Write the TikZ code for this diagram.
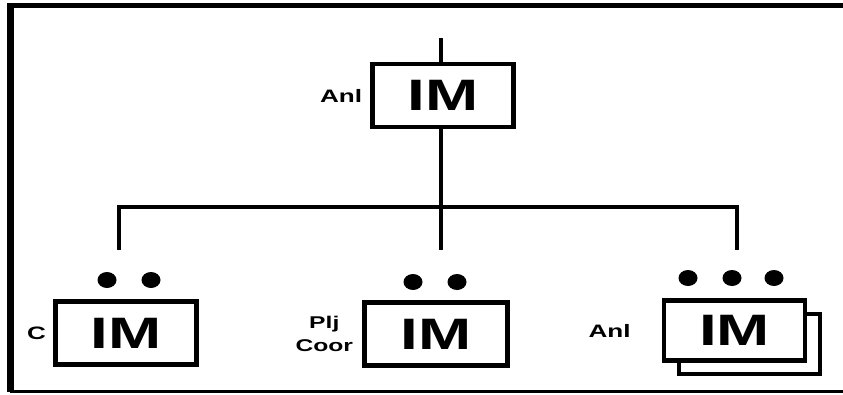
\documentclass[tikz,border=0pt]{standalone}
\usepackage{fontspec}
\newfontfamily\widesans[FakeStretch=1.45]{Liberation Sans}
\usetikzlibrary{positioning}

\begin{document}
\begin{tikzpicture}[x=1pt,y=-1pt,
  imbox/.style={draw,line width=4.5pt,fill=white,minimum width=141pt,
    minimum height=63pt,inner sep=0pt,
    font=\widesans\bfseries\fontsize{44}{44}\selectfont},
  role/.style={inner sep=0pt,font=\widesans\bfseries\fontsize{18}{23}\selectfont},
  link/.style={line width=3.2pt},
  blob/.style={x radius=9.5pt,y radius=8pt}]

\useasboundingbox (0,0) rectangle (843,394);

% frame
\draw[line width=5pt] (7,5.5) -- (843,5.5);
\draw[line width=7pt] (10.5,3) -- (10.5,392);
\draw[line width=2.5pt] (10,391.5) -- (843,391.5);

% top box
\node[imbox] (top) at (443,95.5) {IM};
\node[role,left=8pt of top] (topR) {Anl};

% feed into top box
\coordinate (feed) at (441,38);
\draw[link] (feed) -- (feed |- top.north);

% lower boxes
\node[imbox] (left) at (126,333) {IM};
\node[role,left=7pt of left] (leftR) {C};

\node[imbox,minimum width=143pt] (mid) at (436,334) {IM};
\node[role,left=9pt of mid,align=center,font=\widesans\bfseries\fontsize{17}{23}\selectfont] (midR) {Plj\\Coor};

\node[imbox,minimum height=60pt] (backR) at (749.5,344) {};
\node[imbox,minimum height=60pt] (right) at (734.5,330.5) {IM};
\node[role,left=31pt of right] (rightR) {Anl};

% branch lines
\coordinate (hub) at (441,207);
\coordinate (spL) at (119,250);
\coordinate (spM) at (441,250);
\coordinate (spR) at (737,250);

\draw[link] (top.south -| hub) -- (spM);
\draw[link] (spL) |- (hub) -| (spR);

% dots above boxes
\fill[blob] (107,280) ellipse[];
\fill[blob] (151,280) ellipse[];

\fill[blob] (413,282) ellipse[];
\fill[blob] (457,282) ellipse[];

\foreach \x in {688,732,774}
  \fill[blob] (\x,278) ellipse[];

\end{tikzpicture}
\end{document}
